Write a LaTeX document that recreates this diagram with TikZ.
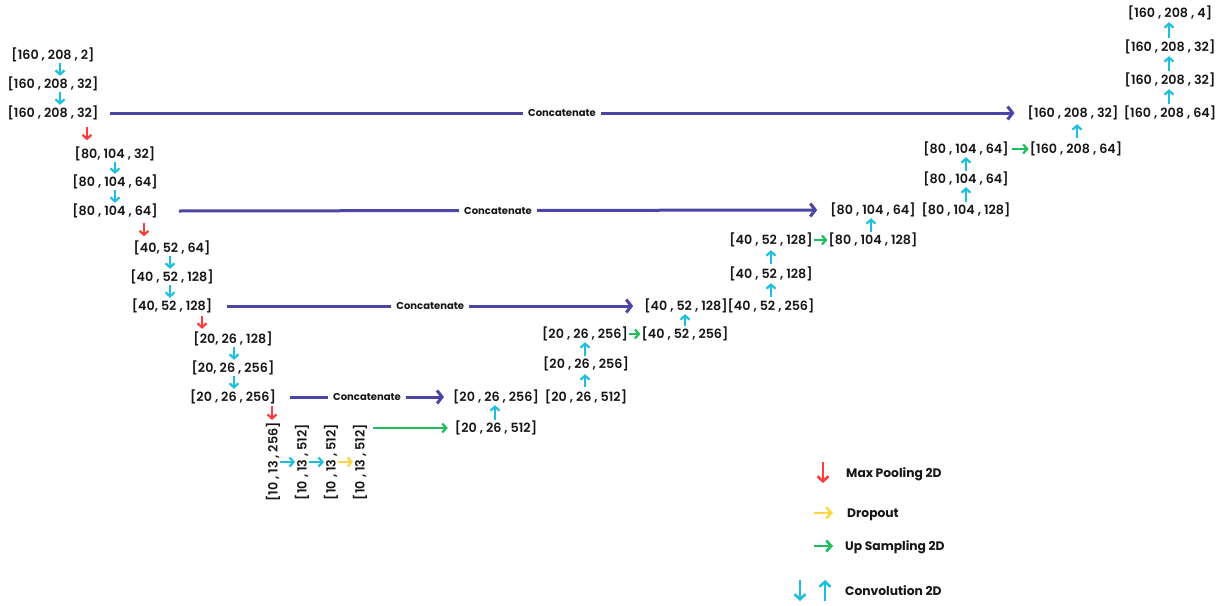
\documentclass[tikz,border=0pt]{standalone}
\usepackage{fontspec}
\setmainfont{Poppins}[UprightFont={* Medium},BoldFont={* SemiBold}]
\newfontfamily\lgdfont{Poppins}[UprightFont={* Bold}]
\usetikzlibrary{arrows.meta}
\definecolor{catc}{HTML}{4B46A6}
\definecolor{convc}{HTML}{1CBFDD}
\definecolor{poolc}{HTML}{FF3B3B}
\definecolor{dropc}{HTML}{FFD54A}
\definecolor{upc}{HTML}{1DBE5A}
\definecolor{txtc}{HTML}{161616}
\begin{document}
\begin{tikzpicture}[x=1pt,y=-1pt,
  lbl/.style={font=\fontsize{12.7}{15}\selectfont\bfseries, text=txtc, inner xsep=1pt, inner ysep=1.5pt, text height=11pt, text depth=2pt},
  lgd/.style={font=\fontsize{12.3}{15}\selectfont\lgdfont, text=txtc, inner sep=0pt, anchor=west, text height=11pt, text depth=2pt},
  clabel/.style={fill=white, font=\fontsize{10}{11}\selectfont\lgdfont, text=txtc, inner xsep=5pt, inner ysep=2pt},
  convar/.style={draw=convc, line width=2.2pt, -{Straight Barb[length=4pt,width=9pt]}},
  poolar/.style={draw=poolc, line width=2.2pt, -{Straight Barb[length=4pt,width=9pt]}},
  dropar/.style={draw=dropc, line width=2.2pt, -{Straight Barb[length=4pt,width=9pt]}},
  upar/.style={draw=upc, line width=2.2pt, -{Straight Barb[length=4pt,width=9pt]}},
  bigar/.style={line width=2.6pt, -{Straight Barb[length=5pt,width=11pt]}},
  catar/.style={draw=catc, line width=3pt, -{Straight Barb[length=5pt,width=13pt]}}
]
\useasboundingbox[fill=white] (0,0) rectangle (1228,605);

% encoder
\node[lbl] (e1) at (53,55) {[160 , 208 , 2]};
\node[lbl] (e2) at (53,84) {[160 , 208 , 32]};
\node[lbl] (e3) at (53,113) {[160 , 208 , 32]};
\node[lbl] (e4) at (115,154) {[80, 104 , 32]};
\node[lbl] (e5) at (115,182) {[80 , 104 , 64]};
\node[lbl] (e6) at (115,211) {[80 , 104 , 64]};
\node[lbl] (e7) at (172,248) {[40, 52 , 64]};
\node[lbl] (e8) at (172,277) {[40 , 52 , 128]};
\node[lbl] (e9) at (172,306) {[40, 52 , 128]};
\node[lbl] (e10) at (233,339) {[20, 26 , 128]};
\node[lbl] (e11) at (233,368) {[20, 26 , 256]};
\node[lbl] (e12) at (233,397) {[20 , 26 , 256]};

% bottleneck
\node[lbl, rotate=90] (b1) at (273,462) {[10 , 13 , 256]};
\node[lbl, rotate=90] (b2) at (302,462) {[10 , 13 , 512]};
\node[lbl, rotate=90] (b3) at (331,462) {[10 , 13 , 512]};
\node[lbl, rotate=90] (b4) at (360,462) {[10 , 13 , 512]};

% decoder
\node[lbl] (d1) at (496,428) {[20 , 26 , 512]};
\node[lbl] (d2) at (496,397) {[20 , 26 , 256]};
\node[lbl] (d3) at (586,397) {[20 , 26 , 512]};
\node[lbl] (d4) at (586,364) {[20 , 26 , 256]};
\node[lbl] (d5) at (585,334) {[20 , 26 , 256]};
\node[lbl] (d6) at (685,334) {[40 , 52 , 256]};
\node[lbl] (d7) at (686,306) {[40 , 52 , 128]};
\node[lbl] (d8) at (771,306) {[40 , 52 , 256]};
\node[lbl] (d9) at (771,274) {[40 , 52 , 128]};
\node[lbl] (d10) at (771,240) {[40 , 52 , 128]};
\node[lbl] (d11) at (873,240) {[80 , 104 , 128]};
\node[lbl] (d12) at (873,210) {[80 , 104 , 64]};
\node[lbl] (d13) at (966,210) {[80 , 104 , 128]};
\node[lbl] (d14) at (966,179) {[80 , 104 , 64]};
\node[lbl] (d15) at (966,149) {[80 , 104 , 64]};
\node[lbl] (d16) at (1076,149) {[160 , 208 , 64]};
\node[lbl] (d17) at (1073,113) {[160 , 208 , 32]};
\node[lbl] (d18) at (1170,113) {[160 , 208 , 64]};
\node[lbl] (d19) at (1170,80) {[160 , 208 , 32]};
\node[lbl] (d20) at (1170,47) {[160 , 208 , 32]};
\node[lbl] (d21) at (1170,13) {[160 , 208 , 4]};

% encoder convolutions
\draw[convar] (60,0 |- e1.south) -- (60,0 |- e2.north);
\draw[convar] (60,0 |- e2.south) -- (60,0 |- e3.north);
\draw[convar] (115,0 |- e4.south) -- (115,0 |- e5.north);
\draw[convar] (115,0 |- e5.south) -- (115,0 |- e6.north);
\draw[convar] (170,0 |- e7.south) -- (170,0 |- e8.north);
\draw[convar] (170,0 |- e8.south) -- (170,0 |- e9.north);
\draw[convar] (234,0 |- e10.south) -- (234,0 |- e11.north);
\draw[convar] (234,0 |- e11.south) -- (234,0 |- e12.north);

% pooling
\draw[poolar, shorten <=5.5pt, shorten >=5.5pt] (87,0 |- e3.south) -- (87,0 |- e4.north);
\draw[poolar, shorten <=3.5pt, shorten >=3.5pt] (144,0 |- e6.south) -- (144,0 |- e7.north);
\draw[poolar, shorten <=2pt, shorten >=2pt] (202,0 |- e9.south) -- (202,0 |- e10.north);
\draw[poolar, shorten <=1pt, shorten >=1pt] (272,0 |- e12.south) -- (272,0 |- b1.east);

% bottleneck
\draw[convar] ([xshift=7pt]b1.center) -- ([xshift=-7pt]b2.center);
\draw[convar] ([xshift=7pt]b2.center) -- ([xshift=-7pt]b3.center);
\draw[dropar] ([xshift=7pt]b3.center) -- ([xshift=-7pt]b4.center);
\coordinate (gs) at ([xshift=13pt]b4.center);
\draw[upar] (gs |- d1.west) -- ([xshift=-6pt]d1.west);

% decoder convolutions
\draw[convar] (495,0 |- d1.north) -- (495,0 |- d2.south);
\draw[convar, shorten <=2pt, shorten >=2pt] (585,0 |- d3.north) -- (585,0 |- d4.south);
\draw[convar] (585,0 |- d4.north) -- (585,0 |- d5.south);
\draw[convar] (685,0 |- d6.north) -- (685,0 |- d7.south);
\draw[convar, shorten <=1pt, shorten >=1pt] (771,0 |- d8.north) -- (771,0 |- d9.south);
\draw[convar, shorten <=2pt, shorten >=2pt] (771,0 |- d9.north) -- (771,0 |- d10.south);
\draw[convar] (871,0 |- d11.north) -- (871,0 |- d12.south);
\draw[convar] (966,0 |- d13.north) -- (966,0 |- d14.south);
\draw[convar] (966,0 |- d14.north) -- (966,0 |- d15.south);
\draw[convar, shorten <=3pt, shorten >=3pt] (1077,0 |- d16.north) -- (1077,0 |- d17.south);
\draw[convar, shorten <=1pt, shorten >=1pt] (1169,0 |- d18.north) -- (1169,0 |- d19.south);
\draw[convar, shorten <=1pt, shorten >=1pt] (1169,0 |- d19.north) -- (1169,0 |- d20.south);
\draw[convar, shorten <=1pt, shorten >=1pt] (1169,0 |- d20.north) -- (1169,0 |- d21.south);

% up sampling
\draw[upar] (d5.east) -- (d6.west);
\draw[upar] (d10.east) -- (d11.west);
\draw[upar, shorten <=2pt] (d15.east) -- (d16.west);

% skip connections
\draw[catar] ([xshift=10pt]e3.east) -- node[clabel]{Concatenate} ([xshift=-12pt]d17.west);
\draw[catar] ([xshift=20pt]e6.east) -- node[clabel]{Concatenate} ([xshift=-12pt]d12.west);
\draw[catar] ([xshift=14pt]e9.east) -- node[clabel]{Concatenate} ([xshift=-10pt]d7.west);
\draw[catar] ([xshift=13pt]e12.east) -- node[clabel]{Concatenate} ([xshift=-8pt]d2.west);

% legend
\node[lgd] (lg1) at (846,473) {Max Pooling 2D};
\node[lgd] (lg2) at (847,513) {Dropout};
\node[lgd] (lg3) at (845,546) {Up Sampling 2D};
\node[lgd] (lg4) at (845,591) {Convolution 2D};
\draw[bigar, draw=poolc] ([shift={(-23,-11)}]lg1.west) -- ([shift={(-23,10)}]lg1.west);
\draw[bigar, draw=dropc] ([shift={(-33,0)}]lg2.west) -- ([shift={(-14,0)}]lg2.west);
\draw[bigar, draw=upc] ([shift={(-31,0)}]lg3.west) -- ([shift={(-12,0)}]lg3.west);
\draw[bigar, draw=convc] ([shift={(-45,-11)}]lg4.west) -- ([shift={(-45,10)}]lg4.west);
\draw[bigar, draw=convc] ([shift={(-20,10)}]lg4.west) -- ([shift={(-20,-11)}]lg4.west);
\end{tikzpicture}
\end{document}
